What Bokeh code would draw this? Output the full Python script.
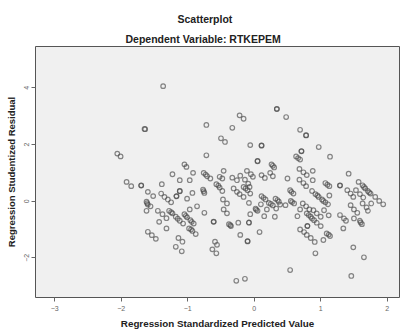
from bokeh.plotting import figure
from bokeh.models import Title, FixedTicker, Range1d, ColumnDataSource
from bokeh.embed import file_html
from bokeh.resources import INLINE

title_main = "Scatterplot"
title_sub = "Dependent Variable: RTKEPEM"
x_label = "Regression Standardized Predicted Value"
y_label = "Regression Studentized Residual"
x_ticks = [-3, -2, -1, 0, 1, 2]
y_ticks = [-2, 0, 2, 4]

# Regression standardized predicted value (x) and studentized residual (y)
pred = [
    -1.37, -1.65, -1.64, -2.06, -2.01, -0.72, -0.72, -0.50, -0.44, -1.05,
    -1.02, -0.92, -1.23, -1.12, -0.97, -0.76, -0.71, -0.66, -0.73, -1.92,
    -1.85, -1.70, -1.70, -1.39, -0.57, -0.52, -0.48, -0.54, 0.34, 0.34,
    0.48, -0.22, -0.16, -0.33, 0.69, 0.78, 0.78, -0.06, 0.11, 0.11,
    0.97, 0.71, 0.71, 0.63, 0.69, 0.66, 1.14, 0.05, 0.05, 0.26,
    0.30, 0.28, 0.68, 0.74, 0.79, 0.88, -0.46, -0.11, -0.05, -0.02,
    -0.21, -0.33, -0.26, -0.52, -0.48, 0.11, 0.16, 0.24, 0.28, 0.50,
    0.68, 0.74, 0.78, 0.88, 1.07, 1.13, 1.10, 1.29, 1.29, 1.42,
    -0.14, -0.09, -0.07,
    -1.60, -1.52, -1.40, -1.35, -1.30, -1.25, -1.17, -1.17, -1.12, -1.12,
    -1.01, -0.93, -0.77, -0.75, -0.76, -0.86, -0.75, -0.97, -1.62, -1.60,
    -1.56, -1.61, -1.62, -1.45, -1.38, -1.32, -1.43, -1.32, -1.28, -1.23,
    -1.18, -1.12, -1.07, -1.25, -1.15, -1.05, -1.01, -0.96, -0.91, -1.03,
    -0.94, -0.98, -0.93, -0.88, -0.95, -1.60, -1.54, -1.48, -1.14, -1.08,
    -1.18, -1.09, -0.61, -0.61, -0.59, -0.56, -0.63, -0.57,
    -0.31, -0.26, -0.22, -0.16, -0.16, -0.10, -0.06, -0.13, -0.47, -0.41,
    -0.46, -0.41, -0.38, -0.35, -0.36, -0.24, -0.08, -0.06, -0.08, -0.08,
    0.02, 0.05, 0.03, -0.21, -0.10, -0.10, 0.08, -0.27, -0.14, 0.54,
    0.11, 0.17, 0.22, 0.28, 0.33, 0.14, 0.25, 0.10, 0.19, 0.32,
    0.37, 0.39, 0.35, 0.15, 0.31, 0.47, 0.54, 0.59, 0.56, 0.55,
    0.60, 0.57, 0.69, 0.65, 0.73, 0.78, 0.83, 0.79, 0.85, 0.90,
    0.94, 1.00, 0.82, 0.87, 0.80, 0.80, 0.69, 0.75, 0.79, 0.85,
    0.91, 0.92, 1.04, 1.09, 1.14, 1.12, 0.89, 0.94, 1.00, 1.05,
    1.12, 0.87, 0.92, 0.97, 1.02, 1.07, 1.11, 0.95, 1.04, 1.13,
    1.29, 1.35, 1.38, 1.34, 1.40, 1.45, 1.49, 1.45, 1.50, 1.55,
    1.50, 1.59, 1.62, 1.60, 1.57, 1.63, 1.67, 1.71, 1.75, 1.82,
    1.88, 1.94, 1.65, 1.73, 1.53, 1.59, 1.64, 1.63, 1.69, 1.76,
    1.71, 1.49, 1.65, 1.46,
]
resid = [
    4.06, 2.55, 2.54, 1.68, 1.58, 2.69, 1.62, 2.22, 2.09, 1.30,
    1.21, 1.00, 0.95, 0.74, 0.74, 1.00, 0.88, 0.80, 0.94, 0.68,
    0.53, 0.56, 0.55, 0.60, 0.60, 0.48, 0.36, 0.55, 3.26, 3.25,
    2.97, 3.03, 2.91, 2.59, 2.52, 2.33, 2.32, 1.98, 1.97, 1.96,
    1.91, 1.77, 1.76, 1.58, 1.47, 1.52, 1.57, 1.42, 1.41, 1.30,
    1.19, 1.25, 1.14, 1.02, 0.92, 1.07, 1.07, 1.07, 0.95, 0.86,
    0.90, 0.83, 0.74, 0.86, 0.80, 0.92, 0.82, 1.00, 0.88, 0.80,
    0.76, 0.64, 0.53, 0.74, 0.64, 0.53, 0.58, 0.56, 0.55, 0.97,
    0.76, 0.62, 0.50,
    0.33, 0.18, 0.27, 0.15, 0.06, -0.04, 0.18, 0.17, 0.36, 0.35,
    0.09, 0.29, 0.41, 0.29, 0.35, -0.18, -0.41, -0.29, -0.02, -0.12,
    -0.18, -0.07, -0.34, -0.34, -0.46, -0.60, -0.73, -0.96, -0.34, -0.43,
    -0.55, -0.69, -0.79, -0.39, -0.62, -0.46, -0.57, -0.67, -0.79, -0.52,
    -0.73, -0.96, -1.05, -1.16, -1.00, -1.08, -1.20, -1.33, -1.30, -1.43,
    -1.61, -1.77, -0.73, -0.72, -1.43, -1.54, -1.70, -1.84,
    0.45, 0.33, 0.25, 0.15, 0.50, 0.39, 0.27, 0.45, 0.06, -0.08,
    -0.29, -0.43, -0.81, -0.88, -0.85, -0.76, -0.06, -0.46, -0.76, -0.75,
    -0.26, -0.34, -0.30, -1.19, -1.42, -1.41, -1.09, -2.81, -2.74, -2.43,
    0.18, 0.06, -0.06, -0.15, -0.26, 0.12, -0.10, -0.11, -0.29, 0.09,
    -0.02, -0.12, 0.04, -0.53, -0.55, -0.14, 0.39, 0.27, 0.33, 0.01,
    -0.08, -0.03, -0.29, -0.53, -0.08, -0.18, -0.29, -0.43, -0.55, -0.67,
    -0.76, -0.88, -0.49, -0.61, -0.88, -0.87, -1.00, -1.09, -1.19, -1.30,
    -1.44, -1.84, -1.37, -1.14, -1.23, -1.18, -0.32, -0.43, -0.55, -0.32,
    -0.50, 0.36, 0.25, 0.15, 0.06, -0.04, -0.11, 0.20, 0.01, 0.20,
    -0.49, -0.61, -0.69, -0.96, 0.39, 0.27, 0.15, -0.14, -0.29, -0.41,
    -0.61, -0.69, -0.81, -0.75, 0.68, 0.56, 0.45, 0.36, 0.27, 0.15,
    0.01, -0.11, 0.50, 0.31, 0.39, 0.25, 0.13, -0.08, -0.22, -0.08,
    -0.34, -1.63, -1.98, -2.64,
]

source = ColumnDataSource(data=dict(x=pred, y=resid))

p = figure(width=404, height=332, output_backend="svg", toolbar_location=None,
           x_range=Range1d(-3.29, 2.185), y_range=Range1d(-3.40, 5.46),
           min_border_left=35, min_border_right=5, min_border_top=46,
           min_border_bottom=35)

p.background_fill_color = "#f0f0f0"
p.border_fill_color = "white"
p.outline_line_color = "#555555"
p.outline_line_width = 1
p.grid.visible = False

p.scatter("x", "y", source=source, marker="circle", size=4.6,
          fill_color=None, line_color="#484848", line_alpha=0.65, line_width=1.2)

for ax in (p.xaxis[0], p.yaxis[0]):
    ax.axis_line_color = None
    ax.major_tick_line_color = "#666666"
    ax.major_tick_in = 0
    ax.major_tick_out = 4
    ax.minor_tick_line_color = None
    ax.major_label_text_font = "Liberation Sans"
    ax.major_label_text_font_size = "7px"
    ax.major_label_text_color = "#666666"
    ax.axis_label_text_font = "Liberation Sans"
    ax.axis_label_text_font_style = "bold"
    ax.axis_label_text_color = "#222222"

p.xaxis[0].axis_label_text_font_size = "9.8px"
p.yaxis[0].axis_label_text_font_size = "9.5px"
p.xaxis[0].major_label_standoff = 4
p.xaxis[0].axis_label_standoff = 4
p.yaxis[0].major_label_standoff = 2
p.yaxis[0].axis_label_standoff = 5

p.xaxis[0].ticker = FixedTicker(ticks=x_ticks)
p.yaxis[0].ticker = FixedTicker(ticks=y_ticks)
p.yaxis[0].major_label_orientation = "vertical"
p.xaxis[0].axis_label = x_label
p.yaxis[0].axis_label = y_label

p.add_layout(Title(text=title_sub, align="left", offset=90,
                   text_font="Liberation Sans", text_font_size="10.5px",
                   text_font_style="bold", text_color="#222222", standoff=3), "above")
p.add_layout(Title(text=title_main, align="left", offset=142,
                   text_font="Liberation Sans", text_font_size="10.5px",
                   text_font_style="bold", text_color="#222222", standoff=10), "above")

open("out.html", "w").write(file_html(p, INLINE))
